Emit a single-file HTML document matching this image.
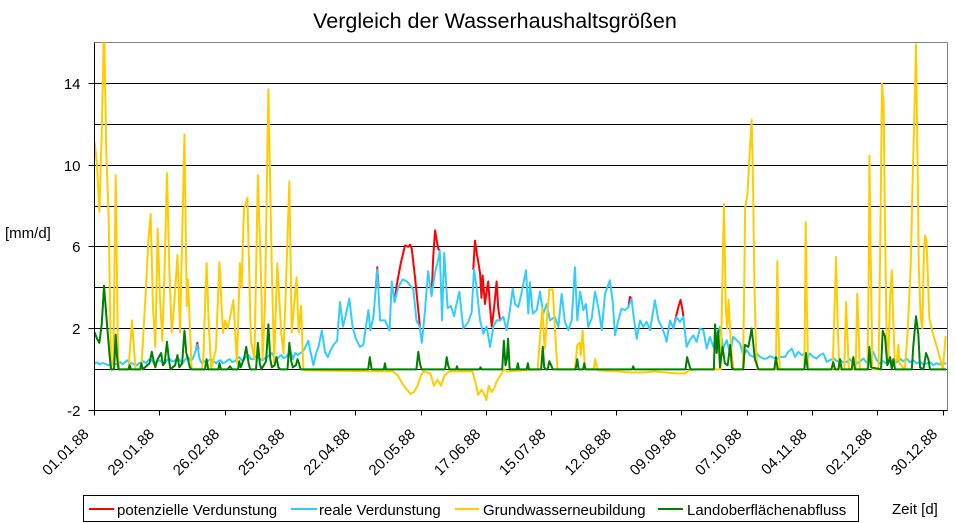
<!DOCTYPE html>
<html>
<head>
<meta charset="utf-8">
<style>
  html, body { margin: 0; padding: 0; background: #fff; }
  svg { display: block; }
  text { font-family: "Liberation Sans", Arial, sans-serif; fill: #000; }
</style>
</head>
<body>
<svg width="955" height="523" viewBox="0 0 955 523" xmlns="http://www.w3.org/2000/svg">
  <rect x="0" y="0" width="955" height="523" fill="#fff"/>
  <defs>
    <clipPath id="plot">
      <rect x="95" y="42.5" width="852.5" height="368"/>
    </clipPath>
  </defs>

  <!-- Title -->
  <text x="495" y="28" font-size="21.5" text-anchor="middle">Vergleich der Wasserhaushaltsgrößen</text>

  <!-- Plot border (top/right grey) -->
  <line x1="94.5" y1="42.5" x2="947.5" y2="42.5" stroke="#808080" stroke-width="1"/>
  <line x1="947.5" y1="42.5" x2="947.5" y2="410.5" stroke="#808080" stroke-width="1"/>

  <!-- Gridlines -->
  <g stroke="#000" stroke-width="1">
    <line x1="94.5" y1="83.5" x2="947" y2="83.5"/>
    <line x1="94.5" y1="124.5" x2="947" y2="124.5"/>
    <line x1="94.5" y1="165.5" x2="947" y2="165.5"/>
    <line x1="94.5" y1="206.5" x2="947" y2="206.5"/>
    <line x1="94.5" y1="246.5" x2="947" y2="246.5"/>
    <line x1="94.5" y1="287.5" x2="947" y2="287.5"/>
    <line x1="94.5" y1="328.5" x2="947" y2="328.5"/>
    <line x1="94.5" y1="369.5" x2="947" y2="369.5"/>
  </g>

  <!-- Axes -->
  <g stroke="#000" stroke-width="1">
    <line x1="94.5" y1="42.5" x2="94.5" y2="410.5"/>
    <line x1="94.5" y1="410.5" x2="947.5" y2="410.5"/>
    <!-- y ticks -->
    <line x1="88.5" y1="83.5" x2="94.5" y2="83.5"/>
    <line x1="88.5" y1="165.5" x2="94.5" y2="165.5"/>
    <line x1="88.5" y1="246.5" x2="94.5" y2="246.5"/>
    <line x1="88.5" y1="328.5" x2="94.5" y2="328.5"/>
    <line x1="88.5" y1="410.5" x2="94.5" y2="410.5"/>
    <!-- x ticks -->
    <line x1="94.5" y1="410.5" x2="94.5" y2="415.5"/>
    <line x1="159.5" y1="410.5" x2="159.5" y2="415.5"/>
    <line x1="225.5" y1="410.5" x2="225.5" y2="415.5"/>
    <line x1="290.5" y1="410.5" x2="290.5" y2="415.5"/>
    <line x1="355.5" y1="410.5" x2="355.5" y2="415.5"/>
    <line x1="421.5" y1="410.5" x2="421.5" y2="415.5"/>
    <line x1="486.5" y1="410.5" x2="486.5" y2="415.5"/>
    <line x1="551.5" y1="410.5" x2="551.5" y2="415.5"/>
    <line x1="616.5" y1="410.5" x2="616.5" y2="415.5"/>
    <line x1="681.5" y1="410.5" x2="681.5" y2="415.5"/>
    <line x1="747.5" y1="410.5" x2="747.5" y2="415.5"/>
    <line x1="812.5" y1="410.5" x2="812.5" y2="415.5"/>
    <line x1="877.5" y1="410.5" x2="877.5" y2="415.5"/>
    <line x1="943.5" y1="410.5" x2="943.5" y2="415.5"/>
  </g>

  <!-- Y labels -->
  <g font-size="15" text-anchor="end">
    <text x="80.5" y="89">14</text>
    <text x="80.5" y="171">10</text>
    <text x="80.5" y="252">6</text>
    <text x="80.5" y="334">2</text>
    <text x="80.5" y="416">-2</text>
  </g>
  <text x="5" y="238" font-size="15">[mm/d]</text>

  <!-- X labels -->
  <g font-size="15" text-anchor="end">
    <text transform="translate(89.7,435) rotate(-45)">01.01.88</text>
    <text transform="translate(155,435) rotate(-45)">29.01.88</text>
    <text transform="translate(220.3,435) rotate(-45)">26.02.88</text>
    <text transform="translate(285.5,435) rotate(-45)">25.03.88</text>
    <text transform="translate(350.8,435) rotate(-45)">22.04.88</text>
    <text transform="translate(416.1,435) rotate(-45)">20.05.88</text>
    <text transform="translate(481.4,435) rotate(-45)">17.06.88</text>
    <text transform="translate(546.6,435) rotate(-45)">15.07.88</text>
    <text transform="translate(611.9,435) rotate(-45)">12.08.88</text>
    <text transform="translate(677.2,435) rotate(-45)">09.09.88</text>
    <text transform="translate(742.5,435) rotate(-45)">07.10.88</text>
    <text transform="translate(807.7,435) rotate(-45)">04.11.88</text>
    <text transform="translate(873,435) rotate(-45)">02.12.88</text>
    <text transform="translate(938.3,435) rotate(-45)">30.12.88</text>
  </g>

  <!-- Series -->
  <g clip-path="url(#plot)">
    <g transform="translate(94.7,369.4) scale(2.3313,-20.44)" fill="none" stroke-linejoin="round" stroke-linecap="round">
      <!-- potenzielle Verdunstung (only where above real) -->
      <g stroke="#FF0000" stroke-width="2" vector-effect="non-scaling-stroke">
        <polyline vector-effect="non-scaling-stroke" points="128.6,3.3 129.5,4.1 131.3,5.2 133.1,6.06 134.5,6 135.3,6.1 136,5.9 137.4,4.5 138.8,2.9 139.5,2.1"/>
        <polyline vector-effect="non-scaling-stroke" points="144.5,3.6 145.2,5.5 146,6.8 146.7,6.3 147.4,5.9 148,5.8"/>
        <polyline vector-effect="non-scaling-stroke" points="162.4,4.9 163.1,6.3 164,5.6 164.6,5.2 165.3,4.7 165.9,3.5 166.4,4.6 167.4,3.2 168.1,3.8 168.8,4.3 169.6,3 170.3,2.1 171.3,3 172.4,4.3 173.1,3 173.9,2.4"/>
        <polyline vector-effect="non-scaling-stroke" points="248.2,2 249.6,2.7 250.5,3.1 251.3,3.4 252,3 252.5,2.6"/>
        <polyline vector-effect="non-scaling-stroke" points="228.9,3.05 229.6,3.55 230.3,3.46"/>
        <polyline vector-effect="non-scaling-stroke" points="43.5,1 44,1.3 44.5,1"/>
        <polyline vector-effect="non-scaling-stroke" points="120.6,4 121.2,5.0 121.8,4"/>
      </g>
      <!-- reale Verdunstung -->
      <polyline stroke="#33CCFF" stroke-width="2" vector-effect="non-scaling-stroke" points="0,0.3 1,0.35 2,0.25 3,0.3 4,0.3 5,0.25 6,0.2 7,0.3 8,0.35 9,0.25 10,0.3 11,0.35 12,0.25 13,0.35 14,0.45 15,0.3 16,0.3 17,0.25 18,0.2 19,0.3 20,0.35 21,0.4 22,0.3 23,0.45 24,0.5 25,0.35 26,0.35 27,0.4 28,0.45 29,0.35 30,0.3 31,0.45 32,0.55 33,0.4 34,0.4 35,0.5 36,0.5 37,0.4 38,0.35 39,0.5 40,0.6 41,0.45 42,0.5 43,0.8 44,1.2 45,0.5 46,0.3 47,0.4 48,0.35 49,0.45 50,0.5 51,0.4 52,0.3 53,0.4 54,0.45 55,0.3 56,0.35 57,0.45 58,0.5 59,0.35 60,0.4 61,0.5 62,0.6 63,0.45 64,0.5 65,0.6 66,0.7 67,0.5 68,0.5 69,0.65 70,0.6 71,0.5 72,0.45 73,0.55 74,0.6 75,0.7 76,0.8 77,0.6 78,0.5 79,0.6 80,0.7 81,0.55 82,0.6 83,0.75 84,0.9 85,0.5 86,0.8 87,0.7 88,0.78 89,0.85 90,1 91.6,1.4 92.5,0.9 93.8,0.2 95,0.8 96,1.1 97.4,1.9 98.8,0.85 100,0.6 101,0.9 102.4,1.2 104,1.4 105.2,3.3 106.5,2.1 107.6,2.6 109.2,3.46 110.6,2.1 112,1.5 113.8,1.1 115.2,1.2 117.4,2.9 118.2,1.9 119.6,2.6 121.2,4.9 122.4,2.4 124.5,2.4 126.5,1.9 127.4,4.3 128.6,3.3 130.2,4 132,4.4 134,4.3 136.7,3.9 138,2.4 139.4,2.1 140.3,1.3 141.7,2.9 143,4.8 144.5,3.6 145.9,4.7 147.4,5.4 148,5.8 149,2.4 149.9,5.7 151.4,3 152.8,3.1 154.2,2.6 155,3.1 156.4,3.8 158.1,2 160.2,2.3 161.7,2.8 162.7,4.9 163.8,4 165.3,2.4 166.7,1.75 168.1,2.1 169.6,1.1 171,2.1 172.4,2.4 173.8,2.4 175.3,2.57 176.7,1.92 178.1,2.9 179.3,3.95 180.3,3.2 181.7,3.05 183.2,3.8 185,4.85 186,2.73 186.7,4.27 187.9,2.73 189.6,2.9 191,3.8 192.4,2.73 193.9,3.2 195.3,2.4 197.4,2.57 198.9,2.08 200.3,3.7 201.7,2.32 203.2,1.92 204.6,2.4 206,5 207,2.4 208.2,3.8 209.6,2.9 210.7,3.2 211.7,2.08 213.2,2.5 214.6,3.8 216,3.05 217.5,1.92 218.9,3.7 221,4.36 222.2,3.3 223.2,1.67 224.6,2.4 226,2.97 227.5,2.9 228.9,3.05 230.3,3.46 231,2.73 232.5,1.5 233.9,2.4 235.3,2.08 236.8,2.32 238.2,1.92 240.3,3.38 241.8,2.4 243.2,2.08 244.6,1.67 245.3,1.35 246.8,2.4 248.2,2 249.6,2.57 251,2.32 252.5,2.57 253.9,1.1 255.3,1.43 256.8,1.67 258.2,1.35 259.6,2 261.1,1.92 262.5,1.02 263.9,1.59 265.4,1.1 266.8,1.67 268.2,2.08 269.6,1.02 271.1,1.43 272.5,0.78 273.9,1.59 275.4,1.43 276.8,1.27 278.2,0.7 279.7,0.94 281.1,0.7 282.5,0.61 284,0.78 285.4,0.61 286.8,0.53 288.3,0.53 289.7,0.65 291.1,0.58 292.5,0.5 294,0.61 296.1,0.61 297.5,0.86 299,1.02 300.4,0.61 301.8,0.86 303.3,0.7 304.7,0.78 306,0.6 306.8,0.78 308.2,0.61 309.7,0.53 311.1,0.7 312.5,0.78 314,0.37 315.4,0.45 317,0.55 318.3,0.4 319.7,0.45 321,0.35 322.6,0.37 324,0.5 325.5,0.3 326.9,0.29 328.3,0.4 329.7,0.53 331,0.35 332.6,0.45 334,0.86 335.4,0.45 336.8,0.29 338.2,0.4 339.7,0.29 341,0.35 342.6,0.45 344,0.35 345.4,0.53 346.8,0.4 348.3,0.53 349.7,0.35 351.1,0.45 352.5,0.3 354,0.37 355.4,0.25 356.9,0.29 358.3,0.35 359.7,0.21 361,0.3 362.5,0.25 364,0.3 365,0.29"/>
      <!-- Grundwasserneubildung -->
      <polyline stroke="#FFCC00" stroke-width="2" vector-effect="non-scaling-stroke" points="0,11.1 1,10 2,7.7 3,11.5 4,17 5,10.5 6,7.4 7,0 8,0.5 9,9.5 10,0.8 10.5,0 14.5,0 16,2.4 17.5,0 20,0 21,2 22,4 23,6.3 24,7.6 25,3 26,1.1 27,6.9 28,3.5 29,1.4 30,5 31,9.6 32,5 33,1.8 34,3 35.5,5.6 36.6,1.8 38.5,11.5 39.5,3.1 40,4.4 41.6,0 46,0 46.6,0.5 47,2 48,5.2 49,2 50,0 52,1 53.5,5.25 55,1.8 56,2.4 57,2 58,2.5 59.5,3.4 61,0.3 62.3,5.2 63,4 64,7.8 65.5,8.4 67,1.4 68.5,0.5 70,9.5 71.5,3.9 72,0.5 73,3 74.5,13.7 76,4.7 77,0.3 78.3,5.2 80,1.8 81,0.8 82,4 83.5,9.2 84.5,1.8 86.6,4.5 87.5,1.8 88.5,3.1 89.5,0 90,-0.05 128,-0.1 130,-0.3 132,-0.7 134,-1 135.5,-1.2 137,-1.1 138.5,-0.8 140,-0.3 141,-0.1 144,-0.2 145.5,-0.8 147,-0.5 148.6,-0.8 150,-0.3 152,-0.1 162,-0.1 163.5,-0.7 164.5,-1.25 166,-1 167.5,-1.3 168,-1.5 169,-0.8 170.3,-1.1 171.5,-0.9 172.4,-0.6 174,-0.3 175.6,0 177,-0.1 190,0 191,1.5 192,3 193,1 194,2.5 195,3.9 196.5,3.9 197.5,1.8 198.5,0 206,0 207,1.2 208,1.3 208.5,0.7 209.3,1.9 210.3,0 214,0 214.7,0.5 215.5,0 216,-0.05 225,-0.1 230,-0.15 235,-0.15 240,-0.1 245,-0.15 250,-0.2 253,-0.2 255,-0.05 258,0 268.5,0 269.9,8.1 270.7,3 271.3,2 271.9,3.4 273,1 274,0 278,0 278.5,3 279,7.9 280,8.6 281,10.7 281.8,12.2 282.4,9 283,4 283.7,1 284.3,0 292.2,0 292.8,5.3 293.3,2 293.8,0 304.4,0 305,7.2 305.5,3 306,0 316.5,0 317.5,3.5 318,5.5 318.6,2.5 319.4,0 321.5,0 322.3,3.3 322.8,1.8 323.5,0 326.4,0 327.1,3.7 327.7,1.8 328.2,0 331.5,0 332,4.5 332.3,10.45 332.8,6 333.6,0 336.2,0 337,6.5 337.7,14 338.4,13 339,7 339.7,1.5 340.4,0.3 341.2,3.5 341.9,4.85 342.5,2.5 343.2,0.3 344.2,0.5 344.7,1.2 345.2,0.3 347.5,0 348.7,1.8 350,5 351,10 351.5,12 352.3,15.9 352.9,10.6 353.5,5 354.3,2.5 355,2 355.7,5.8 356.2,6.55 356.8,6.3 357.4,4.5 358,2.5 359.4,1.8 361,1.2 362.5,0.6 363.8,0 365,1.6"/>
      <!-- Landoberflächenabfluss -->
      <polyline stroke="#008000" stroke-width="2" vector-effect="non-scaling-stroke" points="0,1.8 1,1.5 2,1.3 3,2.2 3.5,3.1 4,4.1 4.6,3.2 5.5,1.9 6.3,0.8 7,0 8.3,0 9,1.7 9.6,0.6 10.2,0 14.5,0 15,0.2 15.6,0 19.5,0 20,0.3 20.6,0 23.5,0.3 24.5,0.86 25.3,0.4 26,0.1 27,0.5 28.5,0.8 29.3,0.2 30,0.3 31,1.35 31.8,0.5 32.5,0 34.5,0.2 35.5,0.7 36.3,0.1 37.5,0.3 38.5,1.9 39.3,0.8 40,0.5 40.8,0.1 41.6,0 47.3,0 48,0.5 48.7,0 53,0 53.5,0.3 54.2,0 57,0 58,0.15 59,0 61.5,0 62,0.4 62.6,0.1 64,0.5 65,1.1 66,0.3 66.7,0 69.2,0 70,1.3 70.8,0.3 71.5,0 73.5,0.4 74.5,2.2 75.3,0.5 76,0.1 77.2,0.2 78,0.6 78.8,0.1 79.6,0 82.7,0 83.5,1.3 84.3,0.4 85,0.1 86.3,0.2 87,0.5 87.6,0.3 88.3,0 117.3,0 118,0.6 118.8,0 124,0 124.5,0.3 125,0 138,0 138.8,0.86 139.5,0.3 140.2,0 150.3,0 151,0.6 151.6,0.2 152.2,0 155,0 155.4,0.15 155.8,0 165,0 165.5,0.1 166,0 174.8,0 175.5,1.4 176.2,0.2 176.8,0.5 177.3,1.5 178,0 181,0 181.5,0.3 182,0 185.3,0 185.8,0.3 186.3,0 191.5,0 192.2,1.1 192.8,0.1 193.5,0 194.3,0 195,0.4 195.8,0.2 196.5,0 206.3,0 207,0.5 207.6,0 209.5,0 210,0.3 210.5,0 230.5,0 231,0.15 231.5,0 253.4,0 254.1,0.6 254.8,0.3 255.6,0 265.6,0 266.1,2.2 266.8,0.8 267.5,1.9 268.2,0.1 269.3,1.1 270.3,0.3 271.5,0.2 272.6,1.2 273.3,0.1 274,0 278.2,0 278.9,1.2 280.4,1.1 281.8,2 283.2,0.5 284.7,0 291.5,0 292.2,0.6 293,0 304.4,0 305.1,0.8 305.8,0 316,0 316.8,0.35 317.6,0 319,0 319.7,0.5 320.4,0 324.7,0 325.4,0.6 326.1,0 331.7,0 332.3,1.1 333,0.1 337.3,0 338,1.9 339,1.6 340,0.2 341.2,0.6 341.9,0 342.6,0.5 343.3,0 350.5,0 351.1,1.1 352.3,2.6 353.3,1.7 354,0.1 355.5,0 356.6,0.8 357.6,0.5 358.3,0 365,0"/>
    </g>
  </g>

  <!-- Legend -->
  <rect x="83.5" y="495.5" width="775" height="26" fill="#fff" stroke="#000" stroke-width="1"/>
  <g stroke-width="2">
    <line x1="89" y1="509" x2="114" y2="509" stroke="#FF0000"/>
    <line x1="291" y1="509" x2="317" y2="509" stroke="#33CCFF"/>
    <line x1="455" y1="509" x2="479" y2="509" stroke="#FFCC00"/>
    <line x1="658" y1="509" x2="683" y2="509" stroke="#008000"/>
  </g>
  <g font-size="15">
    <text x="117" y="515">potenzielle Verdunstung</text>
    <text x="319" y="515">reale Verdunstung</text>
    <text x="483" y="515">Grundwasserneubildung</text>
    <text x="687" y="515">Landoberflächenabfluss</text>
  </g>
  <text x="892" y="514" font-size="15">Zeit [d]</text>
</svg>
</body>
</html>
